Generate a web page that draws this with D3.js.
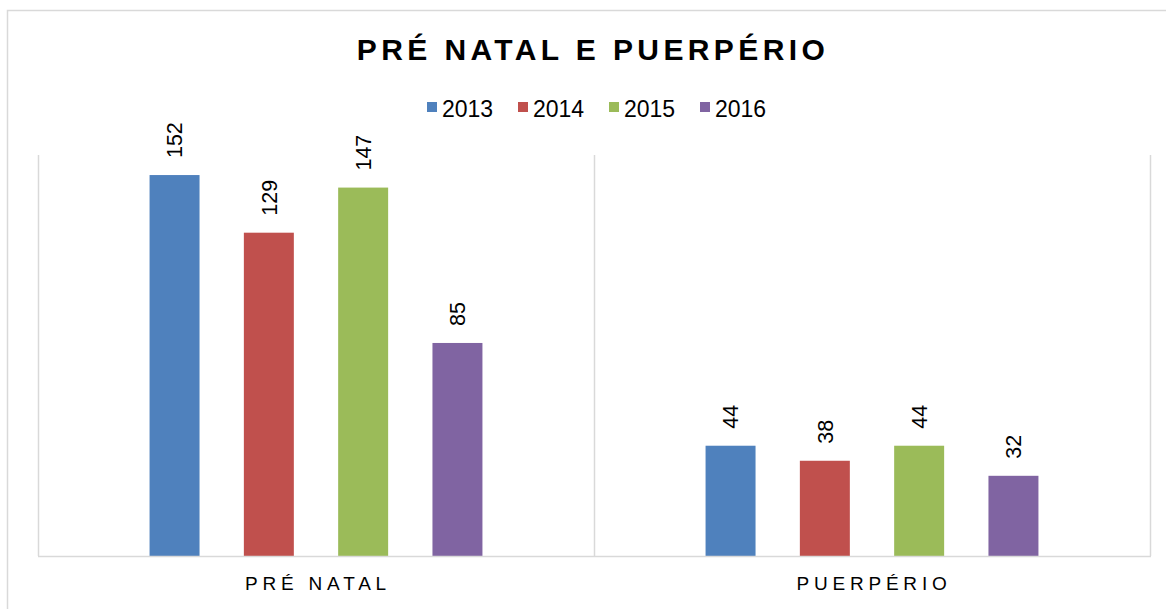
<!DOCTYPE html>
<html>
<head>
<meta charset="utf-8">
<script src="https://cdn.jsdelivr.net/npm/d3@7"></script>
<style>
  body { margin: 0; background: #fff; }
  svg { display: block; font-family: "Liberation Sans", Arial, sans-serif; }
</style>
</head>
<body>
<div id="chart"></div>
<script>
// Data
const categories = ["PRÉ NATAL", "PUERPÉRIO"];
const years = ["2013", "2014", "2015", "2016"];
const preNatal = [152, 129, 147, 85];
const puerperio = [44, 38, 44, 32];
const colors = ["#4F81BD", "#C0504D", "#9BBB59", "#8064A2"];
const title = "PRÉ NATAL E PUERPÉRIO";

const seriesByCategory = [preNatal, puerperio];

const W = 1166, H = 609;
const plot = {left: 38, right: 1150, top: 155, bottom: 556};
const gridColor = "#D9D9D9";

const svg = d3.select("#chart")
  .append("svg")
    .attr("width", W)
    .attr("height", H);

// outer chart border (cropped on right and bottom)
svg.append("rect")
  .attr("x", 7.5).attr("y", 10.5)
  .attr("width", 1300).attr("height", 700)
  .attr("fill", "#fff")
  .attr("stroke", gridColor)
  .attr("stroke-width", 1.5);

// scales
var x0 = d3.scaleBand()
  .domain(categories)
  .range([plot.left, plot.right])
  .padding(0);

var x1 = d3.scaleBand()
  .domain(years)
  .range([0, x0.bandwidth()])
  .paddingInner(0.47)
  .paddingOuter(1.183);

var y = d3.scaleLinear()
  .domain([0, 160])
  .range([plot.bottom, plot.top]);

// category separators / plot frame
const separators = [plot.left].concat(categories.map(c => x0(c) + x0.bandwidth()));
svg.append("g")
  .selectAll("line")
  .data(separators)
  .enter()
  .append("line")
    .attr("x1", d => Math.round(d) + 0.5)
    .attr("x2", d => Math.round(d) + 0.5)
    .attr("y1", plot.top)
    .attr("y2", plot.bottom)
    .attr("stroke", gridColor)
    .attr("stroke-width", 1.5);

// bars
const groups = svg.append("g")
  .selectAll("g")
  .data(categories)
  .enter()
  .append("g")
    .attr("transform", d => "translate(" + x0(d) + ",0)");

groups.selectAll("rect")
  .data((c, i) => seriesByCategory[i].map((v, j) => ({year: years[j], value: v, color: colors[j]})))
  .enter()
  .append("rect")
    .attr("x", d => x1(d.year))
    .attr("y", d => y(d.value))
    .attr("width", x1.bandwidth())
    .attr("height", d => y(0) - y(d.value))
    .attr("fill", d => d.color);

// value labels (rotated)
groups.selectAll("text")
  .data((c, i) => seriesByCategory[i].map((v, j) => ({year: years[j], value: v})))
  .enter()
  .append("text")
    .attr("transform", d => "translate(" + (x1(d.year) + x1.bandwidth() / 2) + "," + (y(d.value) - 17) + ") rotate(-90)")
    .attr("dy", "0.36em")
    .attr("font-size", 21.5)
    .attr("fill", "#000")
    .text(d => d.value);

// baseline
svg.append("line")
  .attr("x1", plot.left)
  .attr("x2", plot.right + 1)
  .attr("y1", plot.bottom + 0.5)
  .attr("y2", plot.bottom + 0.5)
  .attr("stroke", gridColor)
  .attr("stroke-width", 1.5);

// category labels
svg.append("g")
  .selectAll("text")
  .data(categories)
  .enter()
  .append("text")
    .attr("x", d => x0(d) + x0.bandwidth() / 2 + 2)
    .attr("y", 590)
    .attr("text-anchor", "middle")
    .attr("font-size", 19)
    .attr("letter-spacing", "4.8px")
    .attr("fill", "#000")
    .text(d => d);

// title
svg.append("text")
  .attr("x", 593)
  .attr("y", 60)
  .attr("text-anchor", "middle")
  .attr("font-size", 30)
  .attr("font-weight", "bold")
  .attr("letter-spacing", "4.4px")
  .attr("fill", "#000")
  .text(title);

// legend
const legend = svg.append("g")
  .selectAll("g")
  .data(years)
  .enter()
  .append("g")
    .attr("transform", (d, i) => "translate(" + (427 + i * 91) + ",102)");

legend.append("rect")
  .attr("width", 10)
  .attr("height", 10)
  .attr("fill", (d, i) => colors[i]);

legend.append("text")
  .attr("x", 15)
  .attr("y", 15)
  .attr("font-size", 23)
  .attr("fill", "#000")
  .text(d => d);
</script>
</body>
</html>
